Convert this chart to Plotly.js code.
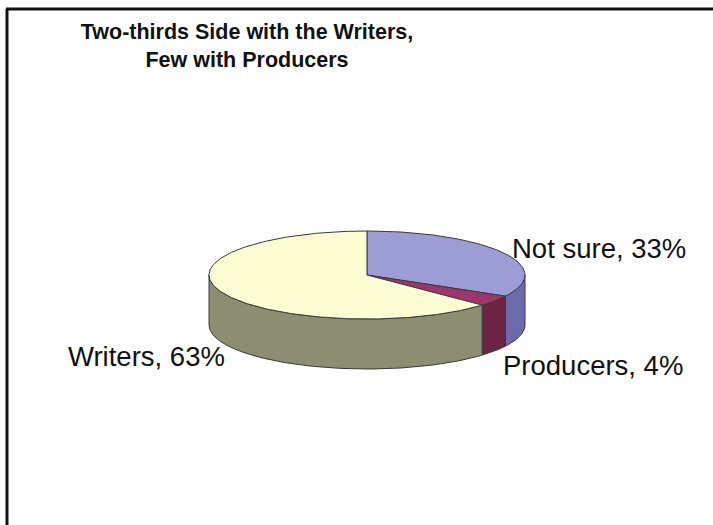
<!DOCTYPE html>
<html><head><meta charset="utf-8">
<script src="https://cdn.plot.ly/plotly-3.0.1.min.js"></script>
<style>html,body{margin:0;padding:0;background:#fff}</style>
</head><body><div id="chart" style="width:713px;height:525px"></div>
<script>
// ---- data ----
const categories = ['Not sure', 'Producers', 'Writers'];
const values = [33, 4, 63];
const chartTitle = 'Two-thirds Side with the Writers,<br>Few with Producers';

// ---- styles / geometry ----
const topColors = ['#9d9dd6', '#9e3669', '#fdfdd4'];
const sideColors = ['#6b6bab', '#6c2345', '#8d8d71'];
const labelPos = [[510, 248, 'left'], [501, 365, 'left'], [66, 356, 'left']];
const cx = 367, cy = 275, rx = 158, ry = 44, depth = 50;
const startAngle = 90;

function pt(deg, dy) {
  const r = deg * Math.PI / 180;
  return [cx + rx * Math.cos(r), cy - ry * Math.sin(r) + dy];
}
function arc(a1, a2, dy) {
  const pts = [];
  const n = Math.max(2, Math.ceil(Math.abs(a1 - a2)));
  for (let i = 0; i <= n; i++) pts.push(pt(a1 + (a2 - a1) * i / n, dy));
  return pts;
}

const total = values.reduce((a, b) => a + b, 0);
const traces = [];
const tops = [];
let cum = 0;
values.forEach((v, i) => {
  const a1 = startAngle - 360 * cum / total;
  cum += v;
  const a2 = startAngle - 360 * cum / total;
  // visible front side wall: angles between -180 and 0
  const s = Math.min(a1, 0), e = Math.max(a2, -180);
  if (s > e) {
    const up = arc(s, e, 0), down = arc(e, s, depth);
    const poly = up.concat(down);
    poly.push(up[0]);
    traces.push({
      type: 'scatter', mode: 'lines', fill: 'toself',
      x: poly.map(p => p[0]), y: poly.map(p => p[1]),
      fillcolor: sideColors[i], line: {color: '#3a3a3a', width: 1},
      hoverinfo: 'skip', showlegend: false
    });
  }
  const poly = [[cx, cy]].concat(arc(a1, a2, 0));
  poly.push([cx, cy]);
  tops.push({
    type: 'scatter', mode: 'lines', fill: 'toself',
    x: poly.map(p => p[0]), y: poly.map(p => p[1]),
    fillcolor: topColors[i], line: {color: '#3a3a3a', width: 1},
    hoverinfo: 'skip', showlegend: false, name: categories[i]
  });
});

const font = 'Liberation Sans, Arial, sans-serif';
const annotations = categories.map((c, i) => ({
  text: c + ', ' + values[i] + '%',
  x: labelPos[i][0], y: labelPos[i][1], xref: 'x', yref: 'y',
  xanchor: labelPos[i][2], yanchor: 'middle', showarrow: false,
  font: {family: font, size: 27.5, color: '#111'}
}));

const layout = {
  width: 713, height: 525,
  margin: {l: 0, r: 0, t: 0, b: 0},
  paper_bgcolor: '#fff', plot_bgcolor: '#fff',
  xaxis: {range: [0, 713], visible: false, fixedrange: true},
  yaxis: {range: [525, 0], visible: false, fixedrange: true},
  title: {
    text: chartTitle, x: 247 / 713, xanchor: 'center',
    y: 1 - 39 / 525, yanchor: 'middle', yref: 'container',
    font: {family: font, size: 21.5, color: '#111', weight: 'bold'}
  },
  annotations: annotations,
  shapes: [
    {type: 'line', xref: 'x', yref: 'y', x0: 7, y0: 525, x1: 7, y1: 9, line: {color: '#111', width: 3}},
    {type: 'line', xref: 'x', yref: 'y', x0: 6, y0: 9, x1: 713, y1: 9, line: {color: '#111', width: 3}}
  ],
  showlegend: false
};

Plotly.newPlot('chart', traces.concat(tops), layout, {displayModeBar: false, staticPlot: true});
</script></body></html>
